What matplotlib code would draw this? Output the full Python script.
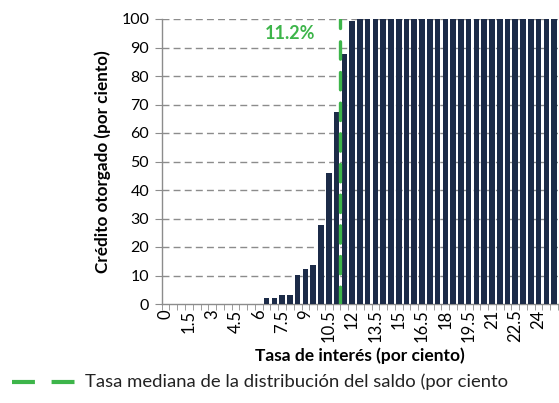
import matplotlib
matplotlib.use("Agg")
import matplotlib.pyplot as plt
from matplotlib.lines import Line2D
import numpy as np

plt.rcParams['font.family'] = ['Lato', 'DejaVu Sans']

# Data
rates = [i * 0.5 for i in range(51)]  # 0 .. 25
credit = [0, 0, 0, 0, 0, 0, 0, 0, 0, 0, 0, 0, 0,
          2.0, 2.0, 3.2, 3.2, 10.2, 12.4, 13.8, 27.6, 45.8, 67.5, 87.6, 99.4] + [100] * 26
tick_labels = ['0', '1.5', '3', '4.5', '6', '7.5', '9', '10.5', '12', '13.5', '15',
               '16.5', '18', '19.5', '21', '22.5', '24']
median_rate = 11.2
median_label = '11.2%'
y_ticks = [0, 10, 20, 30, 40, 50, 60, 70, 80, 90, 100]

navy = '#1C2B48'
green = '#3DB54A'
gray = '#8C8C8C'

fig = plt.figure(figsize=(5.59, 4.03), dpi=100)
ax = fig.add_axes([161.7 / 559, 1 - 304 / 403, (558 - 161.7) / 559, (304 - 19) / 403])

idx = np.arange(len(rates))
ax.bar(idx, credit, width=0.72, color=navy, zorder=3)

ax.set_xlim(-0.5, len(rates) - 0.5)
ax.set_ylim(0, 100)

# grid
for y in y_ticks[1:]:
    ax.axhline(y, color=gray, lw=1.0, ls=(0, (5, 3)), zorder=1)

# median line (position in category index)
step = rates[1] - rates[0]
mpos = (median_rate - rates[0]) / step
ax.plot([mpos, mpos], [0, 100], color=green, lw=2.4, dashes=(5.2, 4.0),
        solid_capstyle='round', dash_capstyle='round', zorder=4)
ax.text(19.3, 95, median_label, color=green, fontsize=13, fontweight='bold',
        ha='right', va='center')

# x ticks
label_pos = [rates.index(float(t)) for t in tick_labels]
ax.set_xticks(label_pos)
ax.set_xticklabels(tick_labels, rotation=90, fontsize=12)
ax.tick_params(axis='x', length=0, pad=4)
ax.set_xticks(np.arange(-0.5, len(rates)), minor=True)
ax.tick_params(axis='x', which='minor', length=4, color=gray, direction='out')

ax.set_yticks(y_ticks)
ax.set_yticklabels([str(v) for v in y_ticks], fontsize=11.5)
ax.tick_params(axis='y', length=5, color=gray, direction='out', pad=4)

for s in ['top', 'right']:
    ax.spines[s].set_visible(False)
for s in ['left', 'bottom']:
    ax.spines[s].set_color(gray)
    ax.spines[s].set_linewidth(1.0)

ax.set_xlabel('Tasa de interés (por ciento)', fontsize=12.5, fontweight='bold', labelpad=4)
ax.set_ylabel('Crédito otorgado (por ciento)', fontsize=12.3, fontweight='bold', labelpad=7)

# legend (manual)
ly = 1 - 382 / 403
fig.add_artist(Line2D([12 / 559, 75 / 559], [ly, ly], color=green, lw=3.0,
                      dashes=(5.5, 4.0), transform=fig.transFigure))
fig.text(85 / 559, ly, 'Tasa mediana de la distribución del saldo (por ciento',
         fontsize=13.3, va='center', ha='left', color='#222222')

fig.savefig('out.png', dpi=100)
